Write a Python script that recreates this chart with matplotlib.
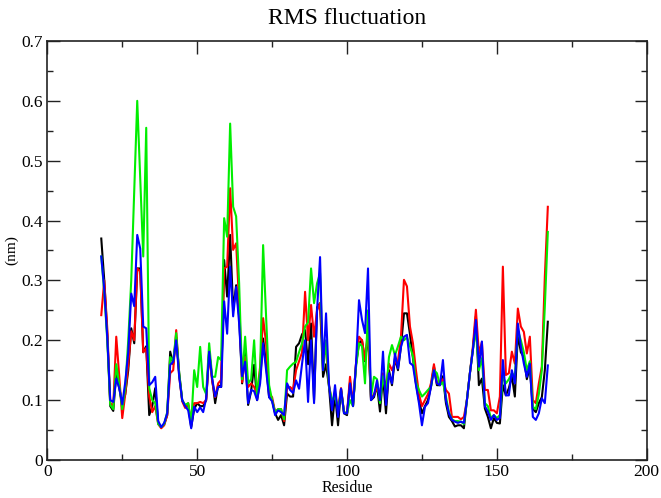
import matplotlib
matplotlib.use("Agg")
import matplotlib.pyplot as plt
from matplotlib.ticker import MultipleLocator

residues = list(range(18, 168))

black = [
    0.370, 0.300, 0.210, 0.090, 0.082, 0.145, 0.120, 0.095, 0.110, 0.150,
    0.220, 0.195, 0.320, 0.320, 0.180, 0.190, 0.075, 0.090, 0.120, 0.062,
    0.055, 0.060, 0.075, 0.181, 0.160, 0.205, 0.145, 0.100, 0.090, 0.092,
    0.055, 0.085, 0.095, 0.090, 0.090, 0.100, 0.182, 0.135, 0.095, 0.125,
    0.122, 0.334, 0.273, 0.376, 0.250, 0.292, 0.240, 0.128, 0.180, 0.092,
    0.115, 0.159, 0.100, 0.135, 0.203, 0.160, 0.105, 0.100, 0.078, 0.067,
    0.075, 0.058, 0.111, 0.106, 0.106, 0.189, 0.195, 0.210, 0.217, 0.160,
    0.228, 0.100, 0.255, 0.262, 0.139, 0.160, 0.122, 0.058, 0.110, 0.058,
    0.119, 0.078, 0.075, 0.130, 0.090, 0.160, 0.195, 0.200, 0.165, 0.210,
    0.100, 0.105, 0.125, 0.081, 0.140, 0.078, 0.150, 0.125, 0.170, 0.150,
    0.190, 0.245, 0.245, 0.210, 0.170, 0.128, 0.100, 0.078, 0.090, 0.100,
    0.122, 0.156, 0.125, 0.125, 0.140, 0.095, 0.072, 0.065, 0.056, 0.058,
    0.058, 0.053, 0.100, 0.145, 0.184, 0.240, 0.125, 0.136, 0.086, 0.072,
    0.053, 0.070, 0.062, 0.061, 0.125, 0.108, 0.120, 0.140, 0.106, 0.210,
    0.180, 0.172, 0.135, 0.155, 0.085, 0.080, 0.095, 0.105, 0.150, 0.231,
]

red = [
    0.242, 0.300, 0.220, 0.095, 0.090, 0.206, 0.140, 0.070, 0.110, 0.160,
    0.215, 0.200, 0.320, 0.315, 0.180, 0.187, 0.106, 0.080, 0.090, 0.060,
    0.053, 0.058, 0.075, 0.145, 0.150, 0.217, 0.140, 0.098, 0.087, 0.095,
    0.060, 0.095, 0.095, 0.097, 0.095, 0.100, 0.178, 0.132, 0.105, 0.128,
    0.134, 0.320, 0.323, 0.454, 0.351, 0.362, 0.262, 0.130, 0.172, 0.122,
    0.128, 0.122, 0.110, 0.156, 0.237, 0.195, 0.110, 0.105, 0.080, 0.085,
    0.085, 0.065, 0.120, 0.122, 0.117, 0.150, 0.165, 0.180, 0.281, 0.200,
    0.259, 0.206, 0.250, 0.262, 0.172, 0.184, 0.125, 0.095, 0.110, 0.085,
    0.120, 0.080, 0.078, 0.139, 0.092, 0.161, 0.206, 0.200, 0.167, 0.217,
    0.103, 0.110, 0.120, 0.110, 0.145, 0.120, 0.161, 0.150, 0.163, 0.165,
    0.206, 0.301, 0.290, 0.223, 0.195, 0.150, 0.110, 0.090, 0.100, 0.110,
    0.128, 0.160, 0.128, 0.130, 0.135, 0.117, 0.111, 0.072, 0.072, 0.072,
    0.068, 0.072, 0.100, 0.145, 0.190, 0.251, 0.178, 0.197, 0.117, 0.117,
    0.083, 0.083, 0.078, 0.106, 0.323, 0.142, 0.145, 0.181, 0.161, 0.253,
    0.223, 0.214, 0.178, 0.206, 0.100, 0.095, 0.128, 0.156, 0.306, 0.423,
]

green = [
    0.340, 0.280, 0.200, 0.092, 0.085, 0.160, 0.125, 0.085, 0.120, 0.200,
    0.300, 0.450, 0.600, 0.470, 0.340, 0.555, 0.120, 0.100, 0.095, 0.060,
    0.055, 0.060, 0.080, 0.172, 0.165, 0.212, 0.145, 0.100, 0.092, 0.095,
    0.060, 0.150, 0.122, 0.189, 0.122, 0.110, 0.195, 0.139, 0.139, 0.172,
    0.167, 0.404, 0.373, 0.562, 0.423, 0.407, 0.295, 0.135, 0.206, 0.128,
    0.135, 0.200, 0.105, 0.150, 0.359, 0.239, 0.125, 0.100, 0.080, 0.085,
    0.085, 0.068, 0.150, 0.156, 0.161, 0.164, 0.180, 0.195, 0.223, 0.230,
    0.320, 0.262, 0.295, 0.312, 0.150, 0.200, 0.122, 0.100, 0.105, 0.085,
    0.115, 0.080, 0.078, 0.100, 0.090, 0.155, 0.195, 0.190, 0.128, 0.250,
    0.105, 0.139, 0.135, 0.095, 0.140, 0.110, 0.172, 0.192, 0.175, 0.190,
    0.206, 0.200, 0.205, 0.190, 0.173, 0.130, 0.117, 0.106, 0.111, 0.117,
    0.122, 0.150, 0.145, 0.125, 0.130, 0.106, 0.080, 0.068, 0.065, 0.065,
    0.064, 0.060, 0.100, 0.145, 0.185, 0.217, 0.150, 0.170, 0.095, 0.090,
    0.070, 0.075, 0.070, 0.075, 0.139, 0.128, 0.135, 0.145, 0.140, 0.217,
    0.200, 0.180, 0.150, 0.165, 0.089, 0.085, 0.110, 0.150, 0.256, 0.381,
]

blue = [
    0.340, 0.285, 0.205, 0.100, 0.097, 0.136, 0.120, 0.093, 0.130, 0.180,
    0.278, 0.257, 0.376, 0.353, 0.223, 0.220, 0.125, 0.130, 0.139, 0.065,
    0.055, 0.062, 0.078, 0.159, 0.164, 0.200, 0.139, 0.100, 0.090, 0.083,
    0.053, 0.089, 0.080, 0.088, 0.080, 0.103, 0.181, 0.136, 0.106, 0.122,
    0.122, 0.265, 0.211, 0.323, 0.240, 0.289, 0.228, 0.140, 0.164, 0.095,
    0.117, 0.115, 0.100, 0.128, 0.195, 0.150, 0.105, 0.098, 0.075, 0.083,
    0.080, 0.075, 0.128, 0.117, 0.112, 0.133, 0.119, 0.161, 0.200, 0.097,
    0.200, 0.095, 0.250, 0.339, 0.150, 0.245, 0.125, 0.083, 0.125, 0.072,
    0.119, 0.078, 0.078, 0.128, 0.090, 0.161, 0.267, 0.234, 0.212, 0.320,
    0.100, 0.108, 0.133, 0.100, 0.181, 0.092, 0.145, 0.128, 0.178, 0.153,
    0.189, 0.206, 0.209, 0.162, 0.158, 0.125, 0.095, 0.058, 0.089, 0.095,
    0.122, 0.150, 0.128, 0.125, 0.167, 0.100, 0.078, 0.067, 0.064, 0.062,
    0.064, 0.062, 0.100, 0.145, 0.184, 0.234, 0.156, 0.198, 0.090, 0.081,
    0.067, 0.075, 0.067, 0.070, 0.167, 0.108, 0.108, 0.150, 0.128, 0.228,
    0.190, 0.161, 0.139, 0.161, 0.072, 0.067, 0.078, 0.103, 0.095, 0.158,
]

series = [black, red, green, blue]
colors = ["#000000", "#ff0000", "#00ee00", "#0000ff"]

plt.rcParams['font.family'] = ['Liberation Serif', 'DejaVu Serif']

fig = plt.figure(figsize=(6.61, 4.98), dpi=100)
ax = fig.add_axes([0.0716, 0.0763, 0.9068, 0.8414])

for vals, c in zip(series, colors):
    ax.plot(residues, vals, color=c, lw=1.5)

ax.set_xlim(0, 200)
ax.set_ylim(0, 0.7)
ax.xaxis.set_major_locator(MultipleLocator(50))
ax.xaxis.set_minor_locator(MultipleLocator(25))
ax.yaxis.set_major_locator(MultipleLocator(0.1))
ax.yaxis.set_minor_locator(MultipleLocator(0.05))
ax.tick_params(which='both', direction='in', top=True, right=True,
               labelsize=12.5, width=1.0, color='#222222')
ax.tick_params(which='major', length=9, pad=3)
ax.tick_params(which='minor', length=4)
ax.yaxis.set_major_formatter(matplotlib.ticker.FuncFormatter(
    lambda v, p: "0" if abs(v) < 1e-9 else f"{v:.1f}"))
for s in ax.spines.values():
    s.set_linewidth(1.2)
    s.set_color('#222222')

ax.set_title("RMS fluctuation", fontsize=17, pad=12)
ax.set_xlabel("Residue", fontsize=11.5, labelpad=0)
ax.set_ylabel("(nm)", fontsize=11)
ax.yaxis.set_label_coords(-0.049, 0.5)

fig.savefig("out.png", dpi=100)
